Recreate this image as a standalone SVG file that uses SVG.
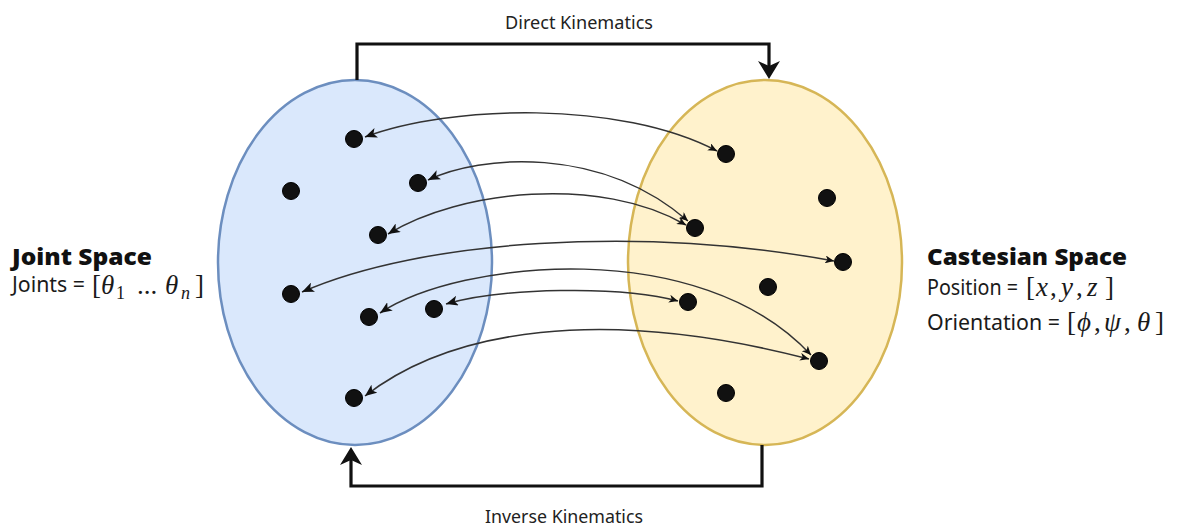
<svg xmlns="http://www.w3.org/2000/svg" width="1180" height="526" viewBox="0 0 1180 526">
  <style>
    .lbl { font-family: "Noto Sans", "Liberation Sans", sans-serif; font-size: 21px; fill: #1a1a1a; }
    .ttl { font-family: "Noto Sans", "Liberation Sans", sans-serif; font-size: 22px; font-weight: 900; fill: #111; }
    .cap { font-family: "Noto Sans", "Liberation Sans", sans-serif; font-size: 18px; fill: #222; }
    .math { font-family: "Liberation Serif", "DejaVu Serif", serif; font-size: 27px; fill: #1a1a1a; }
    .it { font-style: italic; }
    .sub { font-size: 18px; }
    .dot { fill: #111; stroke: #000; stroke-width: 1; }
    .map { fill: none; stroke: #333; stroke-width: 1.5; marker-start: url(#headL); marker-end: url(#headR); }
    .flow { fill: none; stroke: #111; stroke-width: 3.2; marker-end: url(#headBig); }
  </style>
  <defs>
    <marker id="headL" viewBox="0 0 12 10" refX="12" refY="5" markerWidth="12" markerHeight="10" markerUnits="userSpaceOnUse" orient="auto-start-reverse">
      <path d="M0,0 L12,5 L0,10 L3,5 Z" fill="#111"/>
    </marker>
    <marker id="headR" viewBox="0 0 9 8" refX="9" refY="4" markerWidth="9" markerHeight="8" markerUnits="userSpaceOnUse" orient="auto">
      <path d="M0,0 L9,4 L0,8 L2.5,4 Z" fill="#111"/>
    </marker>
    <marker id="headBig" viewBox="0 0 18 22" refX="5" refY="11" markerWidth="18" markerHeight="22" markerUnits="userSpaceOnUse" orient="auto">
      <path d="M0,0 L18,11 L0,22 L5,11 Z" fill="#111"/>
    </marker>
  </defs>

  <!-- joint space -->
  <g id="joint-space">
    <ellipse cx="355" cy="262.5" rx="137" ry="182.5" fill="#dae8fc" stroke="#6c8ebf" stroke-width="2.5"/>
    <circle class="dot" cx="354" cy="139" r="8.5"/>
    <circle class="dot" cx="291" cy="191" r="8.5"/>
    <circle class="dot" cx="418" cy="183" r="8.5"/>
    <circle class="dot" cx="378" cy="235" r="8.5"/>
    <circle class="dot" cx="291" cy="294" r="8.5"/>
    <circle class="dot" cx="369" cy="317" r="8.5"/>
    <circle class="dot" cx="434" cy="309" r="8.5"/>
    <circle class="dot" cx="354" cy="398" r="8.5"/>
  </g>

  <!-- cartesian space -->
  <g id="cartesian-space">
    <ellipse cx="765" cy="262.5" rx="137" ry="182.5" fill="#fff2cc" stroke="#d6b656" stroke-width="2.5"/>
    <circle class="dot" cx="726" cy="154" r="8.5"/>
    <circle class="dot" cx="827" cy="198" r="8.5"/>
    <circle class="dot" cx="695" cy="228" r="8.5"/>
    <circle class="dot" cx="843" cy="262" r="8.5"/>
    <circle class="dot" cx="768" cy="287" r="8.5"/>
    <circle class="dot" cx="688" cy="302" r="8.5"/>
    <circle class="dot" cx="819" cy="361" r="8.5"/>
    <circle class="dot" cx="726" cy="393" r="8.5"/>
  </g>

  <!-- point-to-point mappings -->
  <g id="mappings">
    <path class="map" d="M365,137 C450,105 620,100 717,151"/>
    <path class="map" d="M428,180 C480,155 600,145 688,221"/>
    <path class="map" d="M388,234 C460,190 600,175 686,225"/>
    <path class="map" d="M302,292 C420,240 640,225 834,261"/>
    <path class="map" d="M380,313 C460,260 700,235 811,355"/>
    <path class="map" d="M446,304 C500,288 620,285 678,301"/>
    <path class="map" d="M365,396 C450,330 600,305 809,359"/>
  </g>

  <!-- kinematics loop -->
  <g id="kinematics-flow">
    <path class="flow" d="M357,80 V44 H769 V66"/>
    <path class="flow" d="M762,445 V486 H351 V460"/>
  </g>

  <g id="label-direct">
    <text class="cap" x="579" y="29" text-anchor="middle" textLength="148" lengthAdjust="spacingAndGlyphs">Direct Kinematics</text>
  </g>
  <g id="label-inverse">
    <text class="cap" x="564" y="523" text-anchor="middle" textLength="158" lengthAdjust="spacingAndGlyphs">Inverse Kinematics</text>
  </g>

  <g id="label-joint">
    <text class="ttl" x="12" y="265" textLength="140" lengthAdjust="spacingAndGlyphs">Joint Space</text>
    <text class="lbl" x="12" y="292" textLength="73" lengthAdjust="spacingAndGlyphs">Joints =</text>
    <text class="math" y="294"><tspan x="92">[</tspan><tspan class="it" x="101">θ</tspan><tspan class="sub" x="116" dy="5">1</tspan><tspan x="137" dy="-5">...</tspan><tspan class="it" x="165">θ</tspan><tspan class="sub it" x="181" dy="5">n</tspan><tspan x="195" dy="-5">]</tspan></text>
  </g>

  <g id="label-cartesian">
    <text class="ttl" x="927" y="265" textLength="200" lengthAdjust="spacingAndGlyphs">Castesian Space</text>
    <text class="lbl" x="927" y="295" textLength="91" lengthAdjust="spacingAndGlyphs">Position =</text>
    <text class="math" y="296"><tspan x="1026">[</tspan><tspan class="it" x="1036">x</tspan><tspan x="1050">,</tspan><tspan class="it" x="1061">y</tspan><tspan x="1076">,</tspan><tspan class="it" x="1087">z</tspan><tspan x="1105">]</tspan></text>
    <text class="lbl" x="927" y="330" textLength="133" lengthAdjust="spacingAndGlyphs">Orientation =</text>
    <text class="math" y="331"><tspan x="1067">[</tspan><tspan class="it" x="1077">ϕ</tspan><tspan x="1094">,</tspan><tspan class="it" x="1104">ψ</tspan><tspan x="1124">,</tspan><tspan class="it" x="1137">θ</tspan><tspan x="1155">]</tspan></text>
  </g>
</svg>
